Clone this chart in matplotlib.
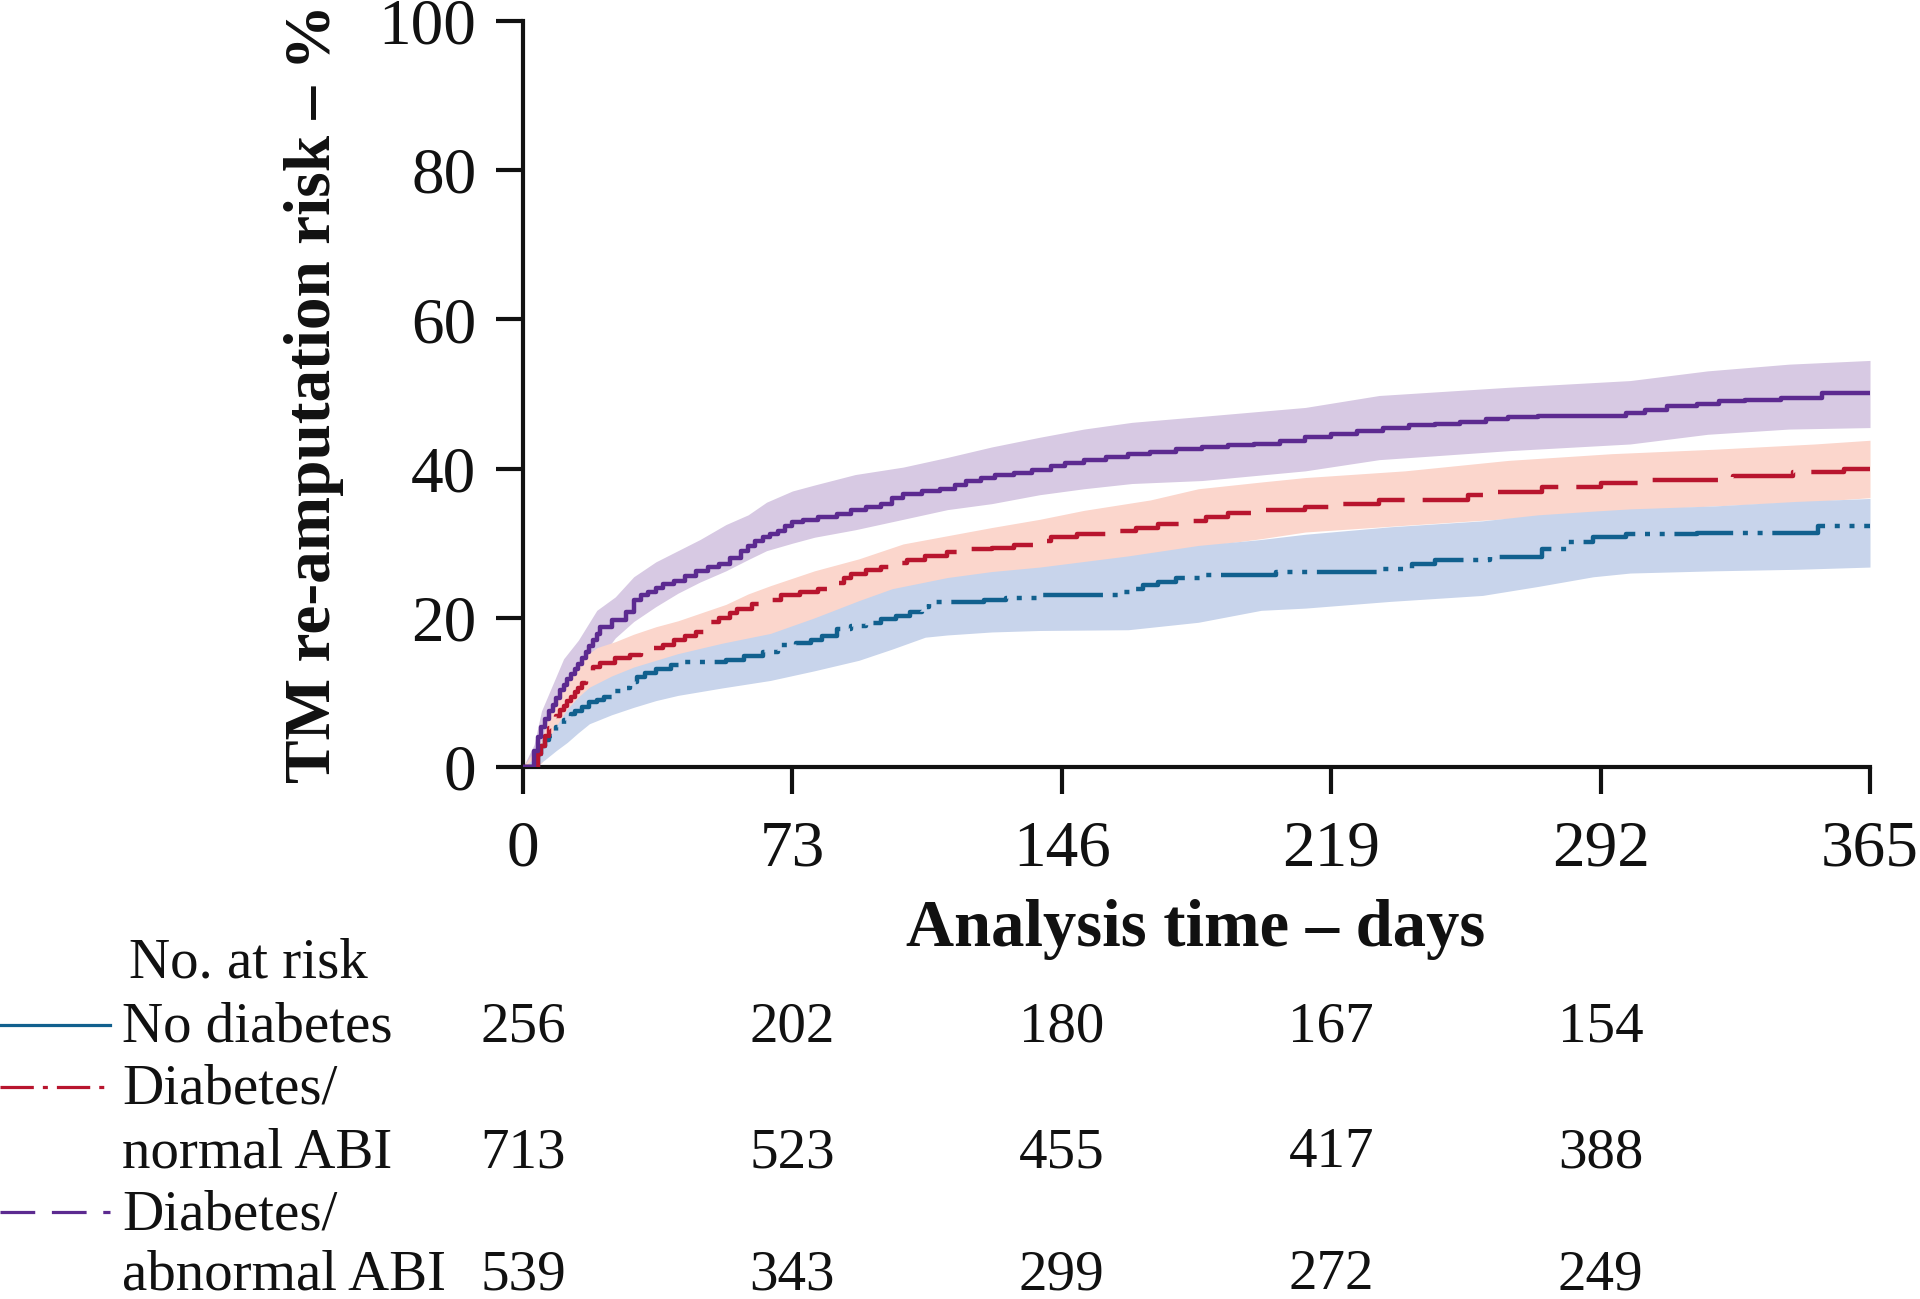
import matplotlib
matplotlib.use('Agg')
import matplotlib.pyplot as plt
from matplotlib.lines import Line2D
from matplotlib.transforms import blended_transform_factory

# ---------------- data ----------------
# No diabetes (blue)
blue_t = [0, 4, 5, 6, 7, 8, 9, 10, 11, 12, 13, 14, 16, 18, 20, 22, 25, 27, 29, 31, 33, 36, 40, 44,
          55, 60, 65, 69, 74, 78, 81, 85, 89, 93, 97, 101, 105, 108, 110, 125, 131, 140, 162, 165,
          168, 172, 177, 184, 204, 232, 241, 247, 262, 276, 283, 290, 299, 318, 351, 365]
blue_v = [0, 1.8, 2.8, 3.6, 4.2, 4.8, 5.3, 5.8, 6.3, 6.7, 7.1, 7.5, 8.0, 8.7, 9.0, 9.4, 10.2, 10.6,
          11.4, 12.0, 12.6, 13.2, 13.7, 14.1, 14.4, 14.9, 15.4, 16.3, 16.6, 17.0, 17.6, 18.5, 18.9,
          19.3, 19.8, 20.3, 20.8, 21.5, 22.1, 22.4, 22.7, 23.0, 23.4, 23.9, 24.4, 24.8, 25.3, 25.7,
          26.1, 26.5, 27.2, 27.8, 28.1, 29.2, 30.1, 30.8, 31.2, 31.4, 32.3, 32.3]
blue_ci_t = [0, 4, 6, 9, 12, 15, 18, 24, 30, 36, 42, 54, 67, 79, 91, 100, 109, 115, 127, 140, 164,
             183, 200, 212, 235, 260, 275, 290, 300, 323, 345, 365]
blue_lo = [0, 0.3, 1.0, 2.2, 3.3, 4.6, 5.8, 7.0, 8.0, 8.9, 9.6, 10.6, 11.6, 12.9, 14.3, 15.8, 17.4,
           17.7, 18.1, 18.3, 18.4, 19.4, 21.0, 21.3, 22.2, 23.0, 24.2, 25.5, 26.0, 26.3, 26.5, 26.8]
blue_hi = [0, 1.5, 3.1, 5.5, 7.8, 9.4, 10.7, 12.2, 13.4, 14.3, 15.2, 16.6, 17.9, 20.0, 22.3, 23.9,
           24.8, 25.4, 26.2, 26.8, 28.3, 29.7, 30.5, 31.2, 32.2, 33.0, 33.8, 34.3, 34.6, 35.0, 35.6, 36.0]

# Diabetes / normal ABI (red)
red_t = [0, 4, 5, 6, 7, 8, 9, 10, 11, 12, 13, 14, 15, 16, 17, 18, 19, 21, 25, 29, 32, 35, 38, 41,
         44, 47, 49, 51, 53, 56, 58, 62, 66, 70, 75, 80, 84, 87, 89, 93, 97, 101, 104, 109, 115, 121,
         127, 133, 139, 143, 150, 158, 166, 172, 178, 185, 191, 200, 212, 222, 232, 256, 262, 276,
         292, 305, 328, 344, 358, 365]
red_v = [0, 1.8, 2.8, 4.2, 5.2, 6.0, 6.8, 7.6, 8.2, 8.8, 9.4, 10.0, 10.6, 11.2, 12.0, 12.8, 13.4,
         14.0, 14.6, 15.0, 15.4, 15.9, 16.4, 17.0, 17.5, 18.1, 18.7, 19.5, 20.0, 20.7, 21.2, 21.9,
         22.4, 23.0, 23.5, 23.9, 24.6, 25.3, 25.9, 26.4, 26.8, 27.4, 27.8, 28.3, 28.8, 29.2, 29.4,
         29.7, 30.3, 30.8, 31.3, 31.7, 32.1, 32.6, 33.0, 33.5, 34.1, 34.4, 34.8, 35.3, 35.8, 36.4,
         36.8, 37.6, 38.1, 38.5, 39.0, 39.5, 39.9, 39.9]
red_ci_t = [0, 5, 8, 12, 16, 20, 25, 30, 36, 42, 55, 61, 67, 79, 91, 103, 115, 127, 140, 152, 170,
            183, 200, 212, 239, 267, 295, 323, 350, 365]
red_lo = [0, 0.5, 3.0, 5.5, 8.0, 10.0, 11.5, 12.5, 13.4, 14.3, 15.7, 16.3, 17.0, 18.5, 21.5, 23.2,
          24.8, 25.9, 26.7, 27.2, 28.3, 29.5, 30.6, 31.5, 32.4, 33.3, 34.3, 35.0, 35.6, 36.1]
red_hi = [0, 3.5, 8.5, 12.0, 14.5, 16.0, 16.8, 17.8, 18.8, 19.6, 21.8, 23.2, 24.3, 26.3, 27.9, 29.9,
          31.0, 32.1, 33.2, 34.4, 35.8, 37.3, 38.2, 38.8, 39.7, 41.1, 42.0, 42.6, 43.3, 43.8]

# Diabetes / abnormal ABI (purple)
pur_t = [0, 3, 4, 5, 6, 7, 8, 9, 10, 11, 12, 13, 14, 15, 16, 17, 18, 19, 20, 21, 24, 28, 30, 32,
         34, 36, 38, 41, 44, 47, 50, 53, 56, 59, 61, 63, 65, 67, 69, 71, 73, 76, 80, 85, 89, 93, 97,
         100, 103, 108, 113, 117, 120, 124, 128, 133, 138, 143, 147, 152, 158, 164, 170, 177, 184,
         191, 198, 205, 212, 219, 226, 233, 240, 247, 254, 261, 267, 275, 299, 304, 310, 318, 324,
         331, 341, 352, 365]
pur_v = [0, 2.2, 4.0, 5.4, 6.5, 7.5, 8.3, 9.2, 10.3, 11.0, 11.8, 12.4, 13.2, 13.8, 14.6, 15.4, 16.2,
         17.0, 17.8, 18.8, 19.7, 20.8, 22.4, 23.0, 23.5, 24.0, 24.5, 25.0, 25.6, 26.3, 26.8, 27.2,
         28.0, 29.0, 29.6, 30.3, 30.8, 31.2, 31.7, 32.3, 32.8, 33.1, 33.5, 33.9, 34.4, 34.9, 35.3,
         36.0, 36.6, 37.0, 37.2, 37.8, 38.3, 38.8, 39.1, 39.4, 39.8, 40.3, 40.7, 41.1, 41.6, 41.9,
         42.2, 42.6, 42.9, 43.1, 43.3, 43.7, 44.2, 44.6, 45.1, 45.4, 45.8, 46.0, 46.2, 46.6, 46.9,
         47.0, 47.4, 47.8, 48.4, 48.6, 49.0, 49.2, 49.5, 50.2, 50.2]
pur_ci_t = [0, 3, 5, 8, 11, 15, 20, 25, 30, 36, 42, 48, 55, 61, 66, 73, 79, 90, 103, 115, 127, 140,
            152, 165, 184, 212, 232, 267, 300, 321, 343, 365]
pur_lo = [0, 0.5, 2.5, 4.8, 7.5, 10.5, 14.0, 17.3, 19.5, 21.5, 23.3, 24.8, 26.3, 27.8, 29.0, 30.0,
          30.8, 31.8, 33.2, 34.5, 35.3, 36.5, 37.3, 38.0, 38.4, 39.7, 41.2, 42.4, 43.3, 44.6, 45.3, 45.5]
pur_hi = [0, 3.0, 7.5, 11.0, 14.5, 17.0, 21.0, 22.8, 25.5, 27.5, 29.0, 30.5, 32.5, 33.8, 35.5, 37.0,
          37.8, 39.2, 40.2, 41.5, 42.9, 44.2, 45.3, 46.2, 47.0, 48.2, 49.8, 50.9, 51.8, 53.1, 54.0, 54.5]

# number at risk table
risk_times = [0, 73, 146, 219, 292]
risk_no_diabetes = [256, 202, 180, 167, 154]
risk_diab_normal = [713, 523, 455, 417, 388]
risk_diab_abnormal = [539, 343, 299, 272, 249]

x_ticks = [0, 73, 146, 219, 292, 365]
y_ticks = [0, 20, 40, 60, 80, 100]

# ---------------- style ----------------
plt.rcParams['font.family'] = ['Liberation Serif', 'DejaVu Serif']
plt.rcParams['lines.scale_dashes'] = False

C_BLUE, C_RED, C_PUR = '#11608e', '#b8152e', '#5c2a90'
B_BLUE, B_RED, B_PUR = '#c8d4eb', '#fbd6cc', '#d7c9e3'
INK = '#111111'

W, H = 1920, 1299
fig = plt.figure(figsize=(W / 100, H / 100), dpi=100)


def fx(px):
    return px / W


def fy(py):
    return 1 - py / H


ax = fig.add_axes([fx(523), fy(767), fx(1870) - fx(523), fy(21) - fy(767)])

ax.fill_between(pur_ci_t, pur_lo, pur_hi, color=B_PUR, lw=0, zorder=1)
ax.fill_between(red_ci_t, red_lo, red_hi, color=B_RED, lw=0, zorder=1.1)
ax.fill_between(blue_ci_t, blue_lo, blue_hi, color=B_BLUE, lw=0, zorder=1.2)

lw = 3.2
ax.plot(blue_t, blue_v, drawstyle='steps-post', color=C_BLUE, lw=lw,
        dashes=[43, 7, 3.6, 7, 3.6, 7], zorder=3, dash_capstyle='butt')
ax.plot(red_t, red_v, drawstyle='steps-post', color=C_RED, lw=lw,
        dashes=[47, 13], zorder=3.1, dash_capstyle='butt')
ax.plot(pur_t, pur_v, drawstyle='steps-post', color=C_PUR, lw=lw, zorder=3.2)

ax.set_xlim(0, 365)
ax.set_ylim(0, 100)
ax.set_xticks(x_ticks)
ax.set_yticks(y_ticks)
for s in ['top', 'right']:
    ax.spines[s].set_visible(False)
for s in ['left', 'bottom']:
    ax.spines[s].set_linewidth(3)
    ax.spines[s].set_color(INK)
ax.tick_params(axis='both', direction='out', length=19.5, width=3, labelsize=47,
               colors=INK)
ax.tick_params(axis='x', pad=19)
ax.tick_params(axis='y', pad=14)

fig.text(fx(314), fy(393), 'TM re-amputation risk – %', rotation=90, fontweight='bold',
         fontsize=47, ha='center', va='center', color=INK)
fig.text(fx(1196), fy(930), 'Analysis time – days', fontweight='bold',
         fontsize=48, ha='center', va='center', color=INK)

# risk table
TS = 41
fig.text(fx(129), fy(978), 'No. at risk', fontsize=TS, va='baseline', ha='left', color=INK)
labels = [('No diabetes', 1042), ('Diabetes/', 1104), ('normal ABI', 1167),
          ('Diabetes/', 1229), ('abnormal ABI', 1289)]
for txt, b in labels:
    fig.text(fx(122), fy(b), txt, fontsize=TS, va='baseline', ha='left', color=INK)

trans = blended_transform_factory(ax.transData, fig.transFigure)
for row, b in [(risk_no_diabetes, 1042), (risk_diab_normal, 1167), (risk_diab_abnormal, 1289)]:
    for t, n in zip(risk_times, row):
        ax.text(t, fy(b), str(n), transform=trans, ha='center', va='baseline',
                fontsize=TS, clip_on=False, color=INK)

# legend keys
fig.add_artist(Line2D([0, fx(110)], [fy(1025), fy(1025)], transform=fig.transFigure,
                      color=C_BLUE, lw=2.3))
fig.add_artist(Line2D([0, fx(110)], [fy(1087), fy(1087)], transform=fig.transFigure,
                      color=C_RED, lw=2.3, dashes=[24, 6.5, 3.6, 6.5], dash_capstyle='butt'))
fig.add_artist(Line2D([0, fx(110)], [fy(1212), fy(1212)], transform=fig.transFigure,
                      color=C_PUR, lw=2.3, dashes=[25, 12], dash_capstyle='butt'))

fig.savefig('out.png', dpi=100)
